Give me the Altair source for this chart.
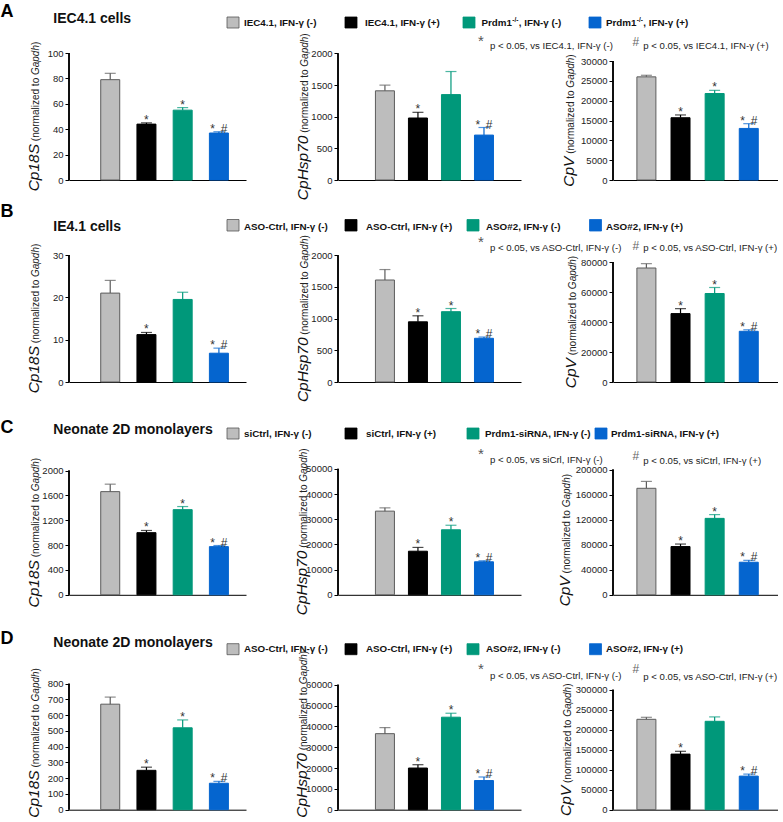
import altair as alt
import pandas as pd

FONT = "Liberation Sans"

# ------------------------------------------------------------------ data
series = ["s0", "s1", "s2", "s3"]
bar_index = [0, 1, 2, 3]
row_letters = ["A", "B", "C", "D"]
row_titles = ["IEC4.1 cells", "IE4.1 cells", "Neonate 2D monolayers", "Neonate 2D monolayers"]
genes = ["Cp18S", "CpHsp70", "CpV"]

legend_A = [["IEC4.1, IFN-γ (-)", "", ""], ["IEC4.1, IFN-γ (+)", "", ""],
            ["Prdm1", "-/-", ", IFN-γ (-)"], ["Prdm1", "-/-", ", IFN-γ (+)"]]
legend_B = [["ASO-Ctrl, IFN-γ (-)", "", ""], ["ASO-Ctrl, IFN-γ (+)", "", ""],
            ["ASO#2, IFN-γ (-)", "", ""], ["ASO#2, IFN-γ (+)", "", ""]]
legend_C = [["siCtrl, IFN-γ (-)", "", ""], ["siCtrl, IFN-γ (+)", "", ""],
            ["Prdm1-siRNA, IFN-γ (-)", "", ""], ["Prdm1-siRNA, IFN-γ (+)", "", ""]]
legend_D = [["ASO-Ctrl, IFN-γ (-)", "", ""], ["ASO-Ctrl, IFN-γ (+)", "", ""],
            ["ASO#2, IFN-γ (-)", "", ""], ["ASO#2, IFN-γ (+)", "", ""]]

stats_A = ["p < 0.05, vs IEC4.1, IFN-γ (-)", "p < 0.05, vs IEC4.1, IFN-γ (+)"]
stats_B = ["p < 0.05, vs ASO-Ctrl, IFN-γ (-)", "p < 0.05, vs ASO-Ctrl, IFN-γ (+)"]
stats_C = ["p < 0.05, vs siCrl, IFN-γ (-)", "p < 0.05, vs siCtrl, IFN-γ (+)"]
stats_D = ["p < 0.05, vs ASO-Ctrl, IFN-γ (-)", "p < 0.05, vs ASO-Ctrl, IFN-γ (+)"]

# Row A
A_18s_mean = [79, 44, 55, 37]
A_18s_err = [5, 1, 2, 1]
A_18s_sig = ["", "*", "*", "* #"]
A_18s_ticks = [0, 20, 40, 60, 80, 100]
A_hsp_mean = [1410, 980, 1350, 710]
A_hsp_err = [90, 90, 365, 120]
A_hsp_sig = ["", "*", "", "* #"]
A_hsp_ticks = [0, 500, 1000, 1500, 2000]
A_cpv_mean = [26000, 15700, 21800, 13000]
A_cpv_err = [400, 700, 800, 1200]
A_cpv_sig = ["", "*", "*", "* #"]
A_cpv_ticks = [0, 5000, 10000, 15000, 20000, 25000, 30000]
# Row B
B_18s_mean = [21, 11.2, 19.5, 6.8]
B_18s_err = [3, 0.5, 1.7, 1.2]
B_18s_sig = ["", "*", "", "* #"]
B_18s_ticks = [0, 10, 20, 30]
B_hsp_mean = [1610, 950, 1110, 690]
B_hsp_err = [165, 95, 50, 20]
B_hsp_sig = ["", "*", "*", "* #"]
B_hsp_ticks = [0, 500, 1000, 1500, 2000]
B_cpv_mean = [76000, 45600, 59000, 33800]
B_cpv_err = [2900, 3300, 4000, 1000]
B_cpv_sig = ["", "*", "*", "* #"]
B_cpv_ticks = [0, 20000, 40000, 60000, 80000]
# Row C
C_18s_mean = [1660, 1000, 1370, 775]
C_18s_err = [120, 35, 50, 18]
C_18s_sig = ["", "*", "*", "* #"]
C_18s_ticks = [0, 400, 800, 1200, 1600, 2000]
C_hsp_mean = [33200, 17300, 25800, 13100]
C_hsp_err = [1300, 1500, 1800, 400]
C_hsp_sig = ["", "*", "*", "* #"]
C_hsp_ticks = [0, 10000, 20000, 30000, 40000, 50000]
C_cpv_mean = [170000, 77000, 122000, 52000]
C_cpv_err = [11000, 4000, 6000, 3000]
C_cpv_sig = ["", "*", "*", "* #"]
C_cpv_ticks = [0, 40000, 80000, 120000, 160000, 200000]
# Row D
D_18s_mean = [670, 250, 520, 168]
D_18s_err = [45, 20, 50, 12]
D_18s_sig = ["", "*", "*", "* #"]
D_18s_ticks = [0, 100, 200, 300, 400, 500, 600, 700, 800]
D_hsp_mean = [36500, 20000, 44400, 14000]
D_hsp_err = [2900, 1600, 1900, 1700]
D_hsp_sig = ["", "*", "*", "* #"]
D_hsp_ticks = [0, 10000, 20000, 30000, 40000, 50000, 60000]
D_cpv_mean = [226000, 139000, 221000, 84000]
D_cpv_err = [5000, 7000, 11000, 5000]
D_cpv_sig = ["", "*", "", "* #"]
D_cpv_ticks = [0, 50000, 100000, 150000, 200000, 250000, 300000]

DATA = [
    [(A_18s_mean, A_18s_err, A_18s_sig, A_18s_ticks), (A_hsp_mean, A_hsp_err, A_hsp_sig, A_hsp_ticks), (A_cpv_mean, A_cpv_err, A_cpv_sig, A_cpv_ticks)],
    [(B_18s_mean, B_18s_err, B_18s_sig, B_18s_ticks), (B_hsp_mean, B_hsp_err, B_hsp_sig, B_hsp_ticks), (B_cpv_mean, B_cpv_err, B_cpv_sig, B_cpv_ticks)],
    [(C_18s_mean, C_18s_err, C_18s_sig, C_18s_ticks), (C_hsp_mean, C_hsp_err, C_hsp_sig, C_hsp_ticks), (C_cpv_mean, C_cpv_err, C_cpv_sig, C_cpv_ticks)],
    [(D_18s_mean, D_18s_err, D_18s_sig, D_18s_ticks), (D_hsp_mean, D_hsp_err, D_hsp_sig, D_hsp_ticks), (D_cpv_mean, D_cpv_err, D_cpv_sig, D_cpv_ticks)],
]
LEGENDS = [legend_A, legend_B, legend_C, legend_D]
STATS = [stats_A, stats_B, stats_C, stats_D]

# ------------------------------------------------------------------ styles / layout
FILLS = ["#BDBDBD", "#000000", "#00987A", "#0565CF"]
STROKES = ["#5C5C5C", "#000000", "#00987A", "#0565CF"]

COL_W = [177, 183, 165]
COL_X = [69, 338, 613]
COL_SP = 92
ROW_SP = 75
ROW_H = [127, 127, 137.8, 139.7]
ROW_TOP = [52.5]
for _h in ROW_H[:-1]:
    ROW_TOP.append(ROW_TOP[-1] + _h + ROW_SP)
XDOM = [[-1.0, 3.61], [-1.27, 3.97], [-0.832, 3.71]]
TICK_H = [[127, 126.5, 119], [127, 126.7, 120], [124.3, 126, 125.3], [126, 125, 120]]
YT_OFF = [[-30, -30, -39], [-30, -30, -37.5], [-30, -31, -43], [-30, -31, -42.5]]
YT_DY = [[0, 0, 0], [0, 0, 0], [0, 0, 8], [0, 0, 0]]

HEAD = [
    dict(letter_y=16.7, title_y=22.3, sq_y=(16.5, 27.5), sq_x=[227, 345, 463, 589], lab_x=[244, 365, 481.5, 606], lab_y=25.5,
         star_y=45.5, t1_y=48, hash_y=45.5, t2_y=48.5),
    dict(letter_y=216.7, title_y=230, sq_y=(219, 230.5), sq_x=[227, 345, 467, 589.5], lab_x=[244, 366, 486, 606], lab_y=229,
         star_y=246.5, t1_y=250, hash_y=249.5, t2_y=250.5),
    dict(letter_y=432.3, title_y=433, sq_y=(427.5, 438.5), sq_x=[227, 345, 467, 595], lab_x=[244, 366, 485, 611], lab_y=436.5,
         star_y=458.5, t1_y=462.5, hash_y=459, t2_y=463.5),
    dict(letter_y=643.3, title_y=646.7, sq_y=(643, 654), sq_x=[227, 345, 467, 589.5], lab_x=[244, 366, 486, 606], lab_y=651.5,
         star_y=673.5, t1_y=678, hash_y=672.5, t2_y=679),
]

REG = {'C': 722, 'p': 556, '1': 556, '8': 556, 'S': 667, 'H': 722, 's': 500, '7': 556, '0': 556, 'V': 667,
       ' ': 278, '(': 333, ')': 333, 'n': 556, 'o': 556, 'r': 333, 'm': 833, 'a': 556, 'l': 222, 'i': 222,
       'z': 500, 'e': 556, 'd': 556, 't': 278, 'G': 778, 'h': 556}
BOLD = {'P': 667, 'r': 389, 'd': 611, 'm': 889, '1': 556, '-': 333, '/': 278}


def tw(s, size, table=REG):
    return sum(table.get(ch, 556) for ch in s) * size / 1000.0


DUMMY = pd.DataFrame({"d": [0]})


def txt(text, x, y, size, weight="normal", style="normal", color="#111111", angle=None):
    mk = dict(text=text, font=FONT, fontSize=size, fontWeight=weight, fontStyle=style,
              color=color, align="left", baseline="alphabetic")
    if angle is not None:
        mk["angle"] = angle
    return alt.Chart(DUMMY).mark_text(**mk).encode(x=alt.value(x), y=alt.value(y))


def rect(x0, x1, y0, y1, fill, stroke):
    return alt.Chart(DUMMY).mark_rect(fill=fill, stroke=stroke, strokeWidth=0.8).encode(
        x=alt.value(x0), x2=alt.value(x1), y=alt.value(y0), y2=alt.value(y1))


def header_layers(r):
    ox, oy = COL_X[0], ROW_TOP[r]
    hd = HEAD[r]
    L = []
    if r == 0:
        # invisible anchor at the page origin
        L.append(alt.Chart(DUMMY).mark_rect(fill="white", opacity=0).encode(
            x=alt.value(-ox), x2=alt.value(-ox + 1), y=alt.value(-oy), y2=alt.value(-oy + 1)))
    L.append(txt(row_letters[r], 0.5 - ox, hd["letter_y"] - oy, 18, weight="bold", color="#000000"))
    L.append(txt(row_titles[r], 53.3 - ox, hd["title_y"] - oy, 14, weight="bold", color="#111111"))
    for k in range(4):
        sx = hd["sq_x"][k]
        L.append(rect(sx - ox, sx + 12 - ox, hd["sq_y"][0] - oy, hd["sq_y"][1] - oy,
                      FILLS[k], "#555555" if k == 0 else FILLS[k]))
        main, sup, rest = LEGENDS[r][k]
        lx = hd["lab_x"][k] - ox
        ly = hd["lab_y"] - oy
        L.append(txt(main, lx, ly, 9.8, weight="bold"))
        if sup:
            sx2 = lx + tw(main, 9.8, BOLD)
            L.append(txt(sup, sx2 + 0.3, ly - 3.8, 6.5, weight="bold"))
            L.append(txt(rest, sx2 + tw(sup, 6.5, BOLD) + 0.6, ly, 9.8, weight="bold"))
    L.append(txt("*", 478 - ox, hd["star_y"] - oy, 15, color="#555555"))
    L.append(txt(STATS[r][0], 490 - ox, hd["t1_y"] - oy, 9.6, color="#222222"))
    L.append(txt("#", 632.5 - ox, hd["hash_y"] - oy, 12, color="#666666"))
    L.append(txt(STATS[r][1], 643.3 - ox, hd["t2_y"] - oy, 9.6, color="#222222"))
    return L


def panel(r, c):
    vals, errs, sig, ticks = DATA[r][c]
    df = pd.DataFrame({"i": bar_index, "v": vals,
                       "top": [v + e for v, e in zip(vals, errs)],
                       "s": series, "sig": [s.replace(" ", "\u00a0\u2009") for s in sig]})
    H, W, h = ROW_H[r], COL_W[c], TICK_H[r][c]
    dmax = ticks[-1] * H / h
    xs = alt.Scale(domain=XDOM[c], nice=False, zero=False)
    ys = alt.Scale(domain=[0, dmax], nice=False, zero=True)
    x_axis = alt.Axis(title=None, labels=False, ticks=False, grid=False,
                      domain=True, domainColor="#000000", domainWidth=1)
    y_axis = alt.Axis(title=None, values=ticks, format="d", grid=False, domain=False,
                      tickSize=4, tickColor="#000000", tickWidth=1,
                      labelOverlap=False, labelFlush=False, labelBound=False,
                      labelFont=FONT, labelFontSize=9.5, labelColor="#222222", labelPadding=2)
    X = alt.X("i:Q", scale=xs, axis=x_axis)
    base = alt.Chart(df)

    bars = base.mark_bar(size=19, strokeWidth=1).encode(
        x=X,
        y=alt.Y("v:Q", scale=ys, axis=y_axis),
        fill=alt.Fill("s:N", scale=alt.Scale(domain=series, range=FILLS), legend=None),
        stroke=alt.Stroke("s:N", scale=alt.Scale(domain=series, range=STROKES), legend=None),
    )
    err = base.mark_rule(strokeWidth=1.2).encode(
        x=X, y=alt.Y("v:Q", scale=ys, axis=y_axis), y2="top:Q",
        stroke=alt.Stroke("s:N", scale=alt.Scale(domain=series, range=STROKES), legend=None))
    cap = base.mark_tick(orient="horizontal", size=11, thickness=1.2).encode(
        x=X, y=alt.Y("top:Q", scale=ys, axis=y_axis),
        color=alt.Color("s:N", scale=alt.Scale(domain=series, range=STROKES), legend=None))
    stars = base.mark_text(font=FONT, fontSize=12, fill="#333333", baseline="alphabetic", dy=1).encode(
        x=X, y=alt.Y("top:Q", scale=ys, axis=y_axis), text="sig:N")
    yline = base.mark_rule(color="#000000", strokeWidth=1).encode(
        x=alt.value(0),
        y=alt.YDatum(datum=0, type="quantitative", scale=ys, axis=y_axis),
        y2=alt.Y2Datum(datum=ticks[-1]))

    layers = [bars, err, cap, stars, yline]

    # y title: gene (italic) + (normalized to Gapdh)
    gene = genes[c]
    g_sz, n_sz = 15.5, 10
    p1, p2, p3 = "(normalized to", "Gapdh", ")"
    sp = tw(" ", n_sz)
    w0, w1, w2, w3 = tw(gene, g_sz), tw(p1, n_sz), tw(p2, n_sz), tw(p3, n_sz)
    total = w0 + sp + w1 + sp + w2 + w3
    center = H - h / 2.0
    start = min(center + total / 2.0 + YT_DY[r][c], 817 - ROW_TOP[r])
    xo = YT_OFF[r][c]
    layers.append(txt(gene, xo, start, g_sz, style="italic", color="#111111", angle=270))
    layers.append(txt(p1, xo, start - w0 - sp, n_sz, color="#222222", angle=270))
    layers.append(txt(p2, xo, start - w0 - sp - w1 - sp, n_sz, style="italic", color="#222222", angle=270))
    layers.append(txt(p3, xo, start - w0 - sp - w1 - sp - w2, n_sz, color="#222222", angle=270))

    if c == 0:
        layers += header_layers(r)

    return alt.layer(*layers).properties(width=W, height=H)


panels = [panel(r, c) for r in range(4) for c in range(3)]

chart = alt.concat(
    *panels, columns=3, spacing={"row": ROW_SP, "column": COL_SP}, bounds="flush", align="each"
).properties(padding=0).configure(font=FONT).configure_view(stroke=None)

chart.save("out.html", embed_options={"renderer": "svg", "actions": False})
